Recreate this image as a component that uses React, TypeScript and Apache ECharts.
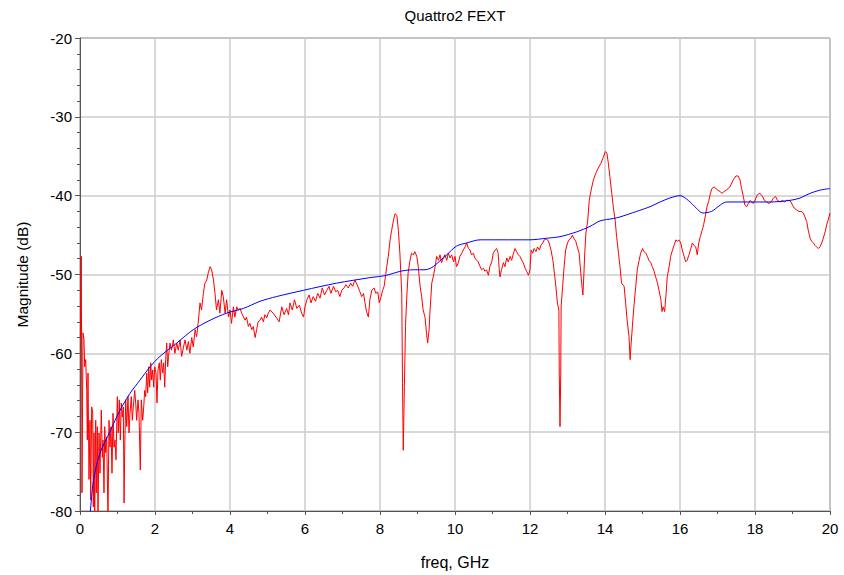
import React, { useEffect, useRef } from "react";
import * as echarts from "echarts";

const chartTitle = "Quattro2 FEXT";
const xAxisName = "freq, GHz";
const yAxisName = "Magnitude (dB)";

const redFreq = [
  0.01, 0.035, 0.053, 0.08, 0.107, 0.125, 0.152, 0.179, 0.195, 0.213, 0.24, 0.267, 0.285, 0.312, 0.339, 0.355, 0.373, 0.392, 0.419, 0.435,
  0.461, 0.48, 0.507, 0.533, 0.568, 0.595, 0.613, 0.64, 0.659, 0.685, 0.712, 0.747, 0.773, 0.8, 0.827, 0.853, 0.88, 0.907, 0.933, 0.96,
  0.995, 1.021, 1.048, 1.075, 1.101, 1.128, 1.155, 1.175, 1.192, 1.219, 1.245, 1.28, 1.307, 1.333, 1.368, 1.395, 1.421, 1.459, 1.485, 1.512,
  1.547, 1.573, 1.608, 1.635, 1.672, 1.699, 1.725, 1.752, 1.779, 1.805, 1.832, 1.859, 1.885, 1.912, 1.939, 1.965, 1.992, 2.027, 2.053, 2.08,
  2.115, 2.141, 2.168, 2.205, 2.232, 2.259, 2.285, 2.312, 2.339,
  2.36, 2.4, 2.44, 2.49, 2.53, 2.58, 2.62, 2.67, 2.71, 2.76, 2.8, 2.85, 2.89, 2.93, 2.98, 3.02, 3.07, 3.11, 3.15, 3.2,
  3.24, 3.29, 3.33, 3.38, 3.42, 3.47, 3.51, 3.56, 3.6, 3.64, 3.69, 3.73, 3.78, 3.82, 3.87, 3.91, 3.96, 4.0, 4.04, 4.09,
  4.13, 4.18, 4.22, 4.27, 4.31, 4.36, 4.4, 4.44, 4.49, 4.53, 4.58, 4.62, 4.67, 4.71, 4.75, 4.8, 4.84, 4.89, 4.93, 4.98, 5.02,
  5.07, 5.15, 5.24, 5.31, 5.38, 5.44, 5.51, 5.56, 5.6, 5.66, 5.72, 5.78, 5.85, 5.91, 5.96, 6.0, 6.05, 6.11, 6.16, 6.22,
  6.28, 6.34, 6.4, 6.46, 6.52, 6.58, 6.64, 6.69, 6.76, 6.82, 6.87, 6.93, 6.98, 7.04, 7.09, 7.15, 7.22, 7.27, 7.33, 7.39,
  7.45, 7.51, 7.56, 7.6, 7.64, 7.69, 7.73, 7.78, 7.84, 7.89, 7.94, 7.98, 8.03, 8.07,
  8.11, 8.18, 8.22, 8.27, 8.31, 8.36, 8.4, 8.45, 8.49, 8.53, 8.58, 8.6, 8.62, 8.65, 8.68, 8.71, 8.75, 8.8, 8.84, 8.89,
  8.93, 8.98, 9.02, 9.07, 9.11, 9.15, 9.2, 9.24, 9.27, 9.31, 9.33, 9.38, 9.42, 9.47, 9.51, 9.56, 9.6, 9.64, 9.69, 9.73,
  9.78, 9.82, 9.87, 9.91, 9.96, 10.0, 10.04, 10.09, 10.13, 10.18, 10.22, 10.27, 10.31, 10.36, 10.4, 10.44, 10.49, 10.53, 10.58, 10.62,
  10.67, 10.71, 10.76, 10.8, 10.84, 10.89, 10.93, 10.98, 11.02, 11.07, 11.11, 11.15, 11.18,
  11.2, 11.24, 11.29, 11.33, 11.38, 11.42, 11.47, 11.51, 11.56, 11.6, 11.64, 11.69, 11.73, 11.78, 11.82, 11.87, 11.91, 11.96, 12.0, 12.03,
  12.07, 12.11, 12.16, 12.2, 12.25, 12.29, 12.34, 12.38, 12.43, 12.47, 12.51, 12.56, 12.61, 12.65, 12.69, 12.73, 12.77, 12.78, 12.8, 12.82,
  12.83, 12.87, 12.91, 12.95, 13.0, 13.04, 13.09, 13.13, 13.17, 13.22, 13.26, 13.31, 13.34, 13.37, 13.41, 13.43, 13.46, 13.49, 13.54, 13.58,
  13.63, 13.69, 13.76, 13.82, 13.89, 13.95, 14.01, 14.05, 14.09, 14.13, 14.18, 14.22, 14.27, 14.31, 14.36, 14.4,
  14.44, 14.51, 14.55, 14.59, 14.64, 14.67, 14.69, 14.73, 14.77, 14.82, 14.86, 14.91, 14.95, 15.0, 15.04, 15.09, 15.13, 15.17, 15.22, 15.26,
  15.31, 15.35, 15.4, 15.44, 15.49, 15.52, 15.55, 15.59, 15.63, 15.66, 15.71, 15.75, 15.8, 15.84, 15.89, 15.93, 15.97, 16.02, 16.06, 16.11,
  16.15, 16.19, 16.24, 16.29, 16.33, 16.37, 16.42, 16.46, 16.5, 16.54, 16.59, 16.63, 16.67, 16.72, 16.77, 16.81, 16.85, 16.91, 16.96, 17.01,
  17.07, 17.12, 17.17, 17.23,
  17.33, 17.42, 17.49, 17.55, 17.6, 17.64, 17.69, 17.73, 17.78, 17.82, 17.87, 17.91, 17.95, 18.0, 18.06, 18.13, 18.2, 18.25, 18.31, 18.37,
  18.43, 18.49, 18.55, 18.6, 18.67, 18.73, 18.78, 18.84, 18.91, 18.96, 19.0, 19.05, 19.11, 19.17, 19.23, 19.29, 19.33, 19.38, 19.42, 19.47,
  19.51, 19.56, 19.6, 19.64, 19.69, 19.73, 19.78, 19.82, 19.87, 19.91, 19.95, 20.0,
];

const redMag = [
  -58, -47.7, -77.7, -57.4, -58.3, -61.7, -60.8, -64.7, -71, -62.5, -76, -68.5, -78.6, -66.8, -67.6, -79.5, -70.1, -81, -68.5, -77.7,
  -69.3, -81, -70.1, -75.2, -67.2, -73.2, -71, -77.7, -69.3, -72.6, -70.6, -81, -68.5, -71.9, -69.3, -75.2, -67.6, -71.9, -71, -73.5,
  -65.5, -70.1, -65.9, -71, -66.3, -68.1, -66.8, -79, -72.3, -65.9, -69.3, -65.5, -70.1, -67.6, -65.5, -68.5, -66.8, -64.7, -66.3, -68.5,
  -65.9, -67.6, -74.8, -65.9, -68.5, -66.8, -64.7, -65.5, -62.5, -65, -61.7, -64.3, -61.2, -63.4, -62.1, -64.3, -61.7, -62.5, -66.3, -62.1,
  -61.2, -63.4, -60.8, -62.5, -61.2, -64.3, -60.8, -58.7, -61.7,
  -60.4, -58.7, -59.6, -58.3, -60, -58.7, -59.6, -58.3, -60.4, -59.2, -58.3, -59.6, -58.5, -60, -58, -59.2, -57, -57.9, -56.2, -53.6,
  -54.5, -52.4, -51.1, -50.7, -49.8, -49, -49.4, -50.7, -52.4, -54.5, -53.2, -54.9, -52, -52.8, -54.9, -53.2, -55.4, -54.5, -56.2, -54.1,
  -55.4, -54.1, -54.5, -54.3, -54.9, -55.4, -55.8, -55.4, -56.6, -56.2, -57, -56.6, -58, -57, -56, -55.8, -55.4, -56, -55.1, -55.5, -54.9,
  -54.5, -54.9, -55.5, -56, -54.1, -55.1, -54.3, -55.1, -53.6, -54.5, -53.2, -54.3, -53.9, -54.9, -55.4, -54.1, -53.2, -52.6, -53.6, -52.8,
  -53.4, -52.4, -53, -51.7, -52.6, -52, -51.5, -52.4, -51.5, -52.2, -52, -52.8, -52, -51.7, -51.3, -51.7, -51.1, -51.5, -50.7, -51.3,
  -52, -52.8, -52.4, -53.6, -54.7, -55.4, -53.2, -52, -51.7, -52.4, -52.2, -53.6, -52.8, -52,
  -51.5, -49, -47.7, -45.6, -44.4, -43.1, -42.3, -42.5, -44.4, -47.3, -52.4, -63.8, -72.3, -64.2, -56.6, -53.2, -49.8, -48.2, -47.3, -47.5,
  -47.1, -47.7, -49, -51.5, -52.8, -54.5, -55.4, -57.4, -58.7, -57, -54.9, -51.1, -50.3, -49, -47.7, -48.2, -47.5, -48.5, -47.9, -47.5,
  -48.2, -47.3, -47.9, -47.5, -48.4, -47.7, -49, -48.5, -47.7, -47.3, -46.9, -46.5, -46, -46.7, -46.9, -47.5, -47.3, -47.9, -48.2, -48.4,
  -49, -49.4, -49.2, -49.6, -49.4, -50.1, -49, -48.4, -47.3, -46.9, -46.7, -47.3, -49.4,
  -50.3, -49.4, -48.5, -49, -47.9, -48.4, -47.7, -48.2, -47.3, -46.7, -47.1, -47.5, -47.7, -48.2, -48.5, -49.2, -49.6, -50.1, -49.4, -46.9,
  -47.3, -46.7, -47.1, -46.5, -46.9, -46.3, -46, -45.6, -45.5, -45.6, -46, -46.9, -48.2, -49.8, -51.5, -53.6, -54.5, -62.5, -69.3, -62.5,
  -54.1, -51.5, -49, -46.9, -46, -45.6, -45.4, -45, -45.4, -45.8, -46.5, -47.3, -49, -50.7, -52.6, -50.7, -47.3, -44.8, -43.1, -40.6,
  -39.3, -38, -37.1, -36.5, -35.9, -35.2, -34.4, -34.6, -35.9, -37.6, -39.7, -41.4, -43.1, -45.2, -47.3, -49,
  -51.1, -51.5, -53.6, -55.8, -57.9, -60.8, -59.2, -56.6, -54.1, -51.5, -49.4, -48.2, -47.3, -46.7, -47.1, -47.3, -47.7, -48.2, -48.5, -49,
  -49.6, -50.3, -51.1, -52, -53.2, -54.7, -54.1, -54.7, -52.4, -50.3, -49, -47.7, -46.9, -46.3, -45.6, -45.8, -45.6, -46, -46.9, -47.7,
  -48.4, -48.2, -47.5, -46.7, -46, -46.3, -46.5, -47.5, -46, -45.2, -44.4, -43.7, -42.7, -41.4, -40.6, -39.7, -39.1, -38.9, -39.1, -39.3,
  -39.5, -39.7, -39.5, -39.3,
  -38.9, -38, -37.5, -37.5, -38, -39.1, -40.1, -41.2, -41.4, -41, -40.6, -40.8, -41, -40.6, -39.9, -39.7, -40.1, -40.6, -40.8, -41,
  -40.8, -40.3, -40.1, -40.6, -40.8, -40.6, -40.8, -40.6, -40.6, -40.8, -41.2, -41.6, -41.8, -42, -42, -42.2, -42.7, -43.3, -44.4, -45.4,
  -45.8, -46, -46.3, -46.5, -46.7, -46.5, -46, -45.4, -44.6, -43.7, -43.1, -42.2,
];

const blueFreq = [
  0.25, 0.27, 0.36, 0.53, 0.8, 1.07, 1.33, 1.6, 1.87, 2.13, 2.58, 3.02, 3.47, 3.91, 4.36, 4.8, 5.24, 5.96, 6.84, 7.73,
  8.18, 8.53, 8.9, 9.2, 9.3, 9.42, 9.78, 10.04, 10.31, 10.67, 11.2, 12.0, 12.44, 12.8, 13.24, 13.6, 13.87, 14.22, 14.4, 14.84,
  15.2, 15.47, 15.73, 16.0, 16.22, 16.44, 16.6, 16.84, 17.07, 17.24, 18.4, 18.93, 19.2, 19.47, 19.73, 20.0,
];

const blueMag = [
  -81, -80.3, -76.1, -72.7, -69.9, -67.2, -65.1, -63.4, -61.7, -60.4, -58.7, -57, -55.8, -54.9, -54.3, -53.4, -52.8, -52, -51.1, -50.4,
  -50.1, -49.6, -49.4, -49.4, -49.3, -49, -47.5, -46.4, -46, -45.6, -45.6, -45.6, -45.4, -45.2, -44.6, -43.9, -43.2, -42.9, -42.7, -42,
  -41.4, -40.8, -40.3, -40, -40.6, -41.6, -42.2, -42, -41.2, -40.8, -40.8, -40.6, -40.3, -39.7, -39.3, -39.1,
];

const FONT = "'Liberation Sans', Arial, sans-serif";

export default function App() {
  const ref = useRef<HTMLDivElement>(null);

  useEffect(() => {
    if (!ref.current) return;
    const chart = echarts.init(ref.current, undefined, { renderer: "svg" });
    const red = redFreq.map((f, i) => [f, redMag[i]]);
    const blue = blueFreq.map((f, i) => [f, blueMag[i]]);
    chart.setOption({
      animation: false,
      backgroundColor: "#ffffff",
      textStyle: { fontFamily: FONT },
      graphic: [
        {
          type: "text",
          x: 455,
          y: 15,
          style: {
            text: chartTitle,
            fill: "#000",
            font: `15px ${FONT}`,
            textAlign: "center",
            textVerticalAlign: "middle",
          },
        },
      ],
      grid: {
        left: 80,
        right: 14,
        top: 38,
        bottom: 64,
        show: true,
        borderColor: "#555",
        borderWidth: 1,
        outerBoundsMode: "none",
        containLabel: false,
      },
      xAxis: {
        type: "value",
        min: 0,
        max: 20,
        interval: 2,
        name: xAxisName,
        nameLocation: "middle",
        nameGap: 43,
        nameTextStyle: { fontSize: 16, color: "#000", fontFamily: FONT },
        axisLine: { show: true, onZero: false, lineStyle: { color: "#555", width: 1 } },
        axisTick: { show: true, inside: false, length: 4, lineStyle: { color: "#555" } },
        minorTick: { show: true, splitNumber: 2, length: 3, lineStyle: { color: "#555" } },
        axisLabel: { fontSize: 15, color: "#000", margin: 10, fontFamily: FONT },
        splitLine: { show: true, lineStyle: { color: "#cccccc", width: 1.5 } },
      },
      yAxis: {
        type: "value",
        min: -80,
        max: -20,
        interval: 10,
        name: yAxisName,
        nameLocation: "middle",
        nameGap: 50,
        nameRotate: 90,
        nameTextStyle: { fontSize: 15.5, color: "#000", fontFamily: FONT },
        axisLine: { show: true, onZero: false, lineStyle: { color: "#555", width: 1 } },
        axisTick: { show: true, inside: false, length: 5, lineStyle: { color: "#555" } },
        minorTick: { show: true, splitNumber: 5, length: 3, lineStyle: { color: "#555" } },
        axisLabel: { fontSize: 15, color: "#000", margin: 8, fontFamily: FONT },
        splitLine: { show: true, lineStyle: { color: "#cccccc", width: 1.5 } },
      },
      series: [
        {
          type: "line",
          data: red,
          showSymbol: false,
          symbol: "none",
          clip: true,
          lineStyle: { color: "#ff0000", width: 1 },
          itemStyle: { color: "#ff0000" },
        },
        {
          type: "line",
          data: blue,
          showSymbol: false,
          symbol: "none",
          smooth: 0.3,
          clip: true,
          lineStyle: { color: "#0000ff", width: 1 },
          itemStyle: { color: "#0000ff" },
        },
      ],
    });
    return () => chart.dispose();
  }, []);

  return (
    <div
      ref={ref}
      style={{ position: "fixed", left: 0, top: 0, width: 844, height: 575, background: "#fff" }}
    />
  );
}
